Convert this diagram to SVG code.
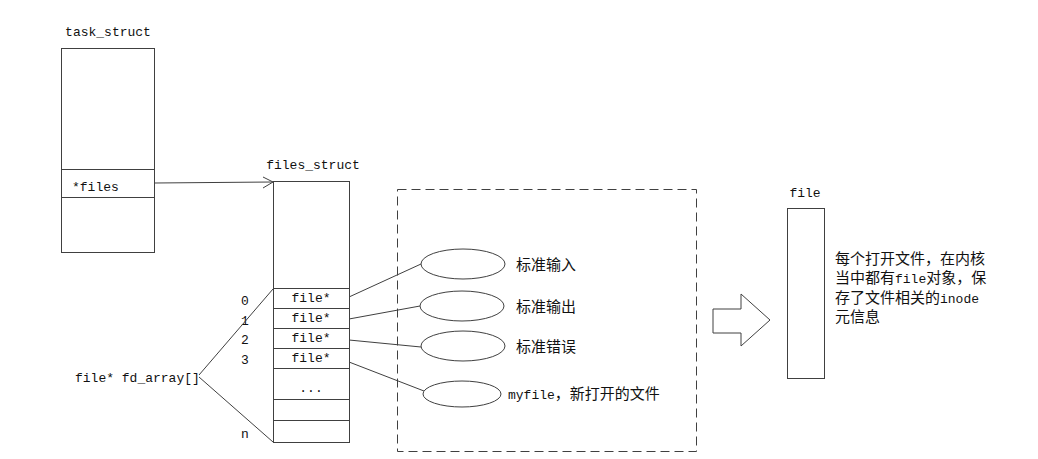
<svg xmlns="http://www.w3.org/2000/svg" width="1038" height="459" viewBox="0 0 1038 459">
<style>
.ln{fill:none;stroke:#404040;stroke-width:1}
.t{font-family:"Liberation Mono","Noto Sans CJK SC",monospace;font-size:13px;fill:#111}
.c{font-family:"Noto Sans CJK SC","Liberation Sans",sans-serif;font-size:15px;fill:#111}
.m{font-family:"Liberation Mono",monospace;font-size:13px}
</style>
<rect width="1038" height="459" fill="#fff"/>
<g id="task_struct">
<text class="t" x="108" y="36" text-anchor="middle">task_struct</text>
<rect class="ln" x="61.5" y="48.5" width="93" height="204"/>
<line class="ln" x1="61.5" y1="169.5" x2="154.5" y2="169.5"/>
<line class="ln" x1="61.5" y1="197.5" x2="154.5" y2="197.5"/>
<text class="t" x="72" y="191">*files</text>
</g>
<g id="files_struct">
<text class="t" x="313" y="169" text-anchor="middle">files_struct</text>
<rect class="ln" x="273.5" y="181.5" width="76" height="261"/>
<line class="ln" x1="273.5" y1="288.5" x2="349.5" y2="288.5"/>
<line class="ln" x1="273.5" y1="308.5" x2="349.5" y2="308.5"/>
<line class="ln" x1="273.5" y1="328.5" x2="349.5" y2="328.5"/>
<line class="ln" x1="273.5" y1="348.5" x2="349.5" y2="348.5"/>
<line class="ln" x1="273.5" y1="368.5" x2="349.5" y2="368.5"/>
<line class="ln" x1="273.5" y1="399.5" x2="349.5" y2="399.5"/>
<line class="ln" x1="273.5" y1="420.5" x2="349.5" y2="420.5"/>
<text class="t" x="311" y="302" text-anchor="middle">file*</text>
<text class="t" x="311" y="322" text-anchor="middle">file*</text>
<text class="t" x="311" y="342" text-anchor="middle">file*</text>
<text class="t" x="311" y="362" text-anchor="middle">file*</text>
<text class="t" x="311" y="392" text-anchor="middle">...</text>
<text class="t" x="245" y="305" text-anchor="middle">0</text>
<text class="t" x="245" y="325" text-anchor="middle">1</text>
<text class="t" x="245" y="344" text-anchor="middle">2</text>
<text class="t" x="245" y="364" text-anchor="middle">3</text>
<text class="t" x="245" y="438" text-anchor="middle">n</text>
</g>
<g id="fd_array">
<text class="t" x="75" y="382">file* fd_array[]</text>
</g>
<g id="open_files">
<rect x="397.5" y="189.5" width="299" height="262" fill="none" stroke="#404040" stroke-dasharray="9,5"/>
<ellipse class="ln" cx="463" cy="264" rx="42" ry="15"/>
<ellipse class="ln" cx="462" cy="306" rx="42" ry="15"/>
<ellipse class="ln" cx="463" cy="346" rx="42" ry="15"/>
<ellipse class="ln" cx="462" cy="394" rx="39" ry="13"/>
<text class="c" x="516" y="270">标准输入</text>
<text class="c" x="516" y="312">标准输出</text>
<text class="c" x="516" y="352">标准错误</text>
<text class="c" x="508" y="399"><tspan class="m">myfile</tspan>，新打开的文件</text>
</g>
<g id="file">
<text class="t" x="805" y="197" text-anchor="middle">file</text>
<rect class="ln" x="787.5" y="208.5" width="37" height="170"/>
<text class="c" x="835" y="264">每个打开文件，在内核</text>
<text class="c" x="835" y="283">当中都有<tspan class="m">file</tspan>对象，保</text>
<text class="c" x="835" y="303">存了文件相关的<tspan class="m">inode</tspan></text>
<text class="c" x="835" y="322">元信息</text>
</g>
<g id="connectors">
<line class="ln" x1="154.5" y1="183" x2="273" y2="182"/>
<polyline class="ln" points="263,177 273,182 263,188"/>
<line class="ln" x1="199" y1="375" x2="273" y2="289"/>
<line class="ln" x1="199" y1="377" x2="273" y2="442"/>
<line class="ln" x1="349" y1="297" x2="421" y2="264"/>
<line class="ln" x1="349" y1="319" x2="420" y2="306"/>
<line class="ln" x1="349" y1="340" x2="421" y2="347"/>
<line class="ln" x1="349" y1="362" x2="424" y2="391"/>
<polygon class="ln" points="713,309 741,309 741,294 770,320 741,346 741,333 713,333"/>
</g>
</svg>
